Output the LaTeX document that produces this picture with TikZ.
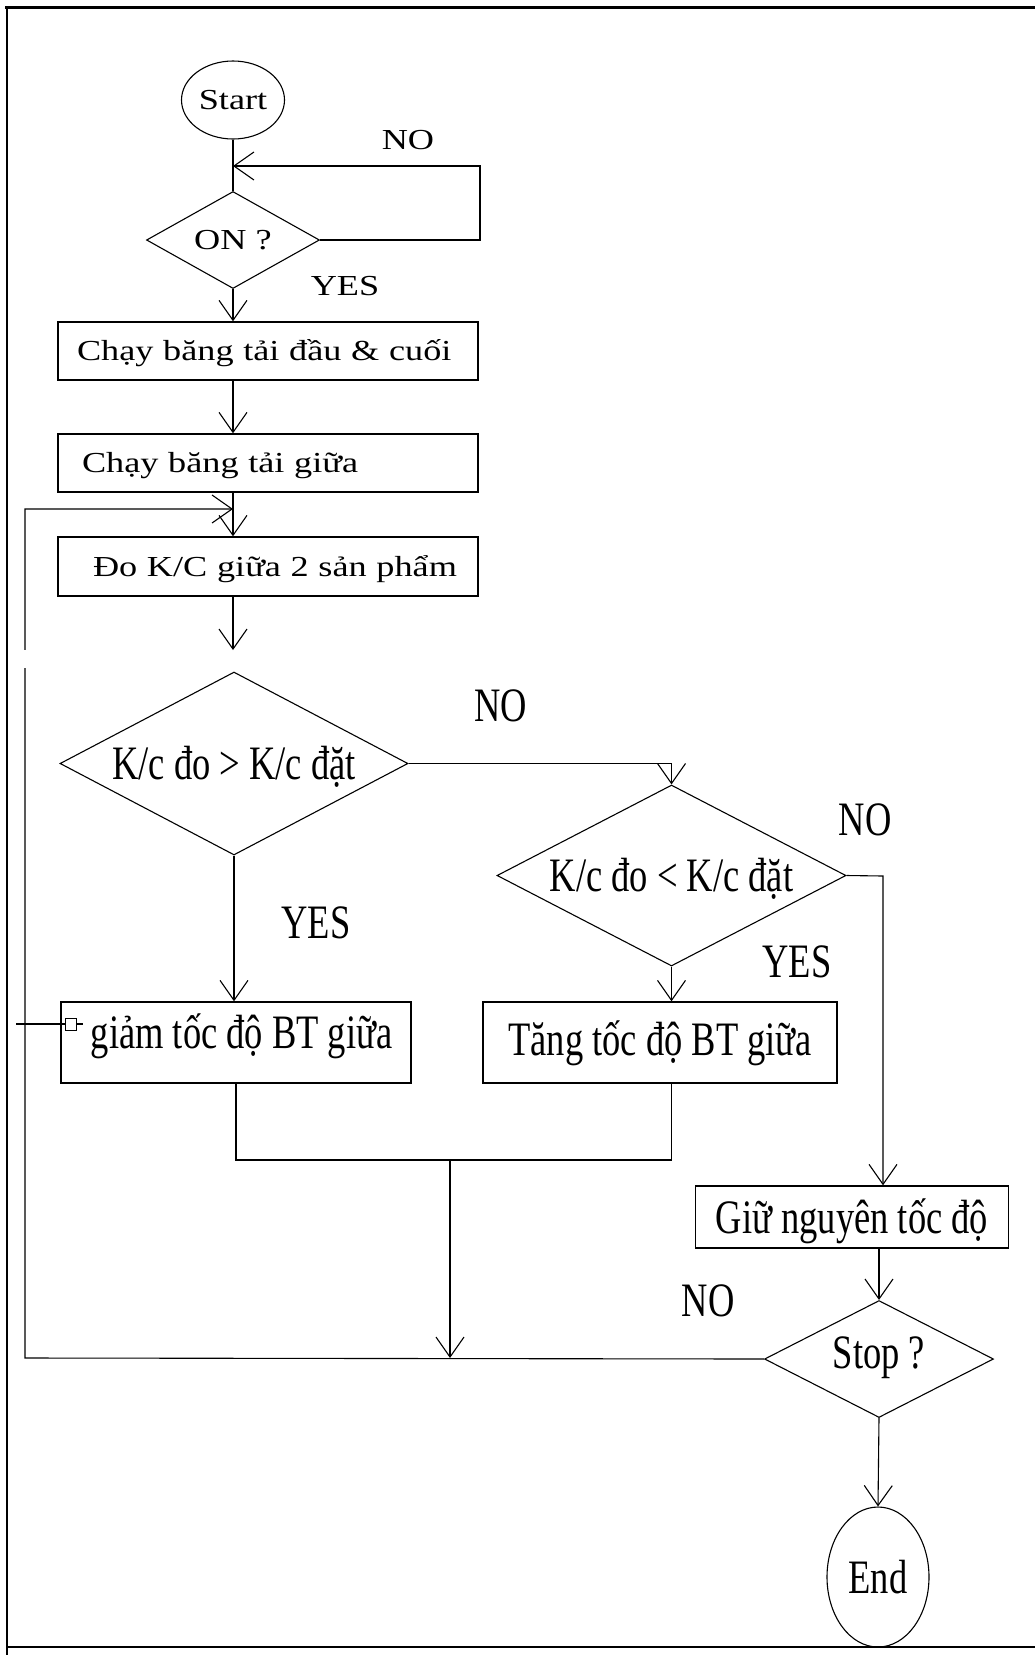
\documentclass[tikz,border=0pt]{standalone}
\usepackage{fontspec}
\setmainfont{Liberation Serif}
\newfontfamily\upfont[FakeStretch=1.25]{Liberation Serif}
\newfontfamily\lowfont[FakeStretch=0.76]{Liberation Serif}
\usetikzlibrary{shapes.geometric,arrows.meta}
\begin{document}
\begin{tikzpicture}[x=1pt,y=-1pt,
  conn/.style={line width=1.1pt},
  arr/.style={conn,-{Straight Barb[length=20pt,width=28pt]}},
  upper/.style={font=\upfont\fontsize{29}{32}\selectfont, text height=19pt, text depth=0pt},
  lower/.style={font=\lowfont\fontsize{48}{52}\selectfont, text height=32pt, text depth=0pt},
  box/.style={draw, line width=1.4pt, rectangle, inner sep=0pt},
  ubox/.style={box, upper, align=left, minimum height=58pt, text width=420pt},
  lbox/.style={box, lower, minimum height=81pt},
  dia/.style={draw, diamond, inner sep=0pt, line width=1.1pt},
  ell/.style={draw, ellipse, inner sep=0pt, line width=1.1pt},
  lab/.style={inner sep=0pt}
]
\useasboundingbox (0,0) rectangle (1035,1655);
% frame
\draw[line width=3pt] (5,7) -- (1035,7);
\draw[line width=2.5pt] (7,6) -- (7,1655);
\draw[line width=2pt] (6,1647) -- (1035,1647);

% nodes
\node[ell, upper, minimum width=103pt, minimum height=78pt] (start) at (233,100) {Start};
\node[dia, upper, minimum width=173pt, minimum height=97pt, aspect=1.78] (on) at (233,240) {ON ?};
\node[ubox] (b1) at (268,351) {\hspace*{19pt}Chạy băng tải đầu \& cuối};
\node[ubox] (b2) at (268,463) {\hspace*{24pt}Chạy băng tải giữa};
\node[ubox, minimum height=59pt] (b3) at (268,566.5) {\hspace*{35pt}Đo K/C giữa 2 sản phẩm};
\node[dia, lower, minimum width=348pt, minimum height=183pt, aspect=1.9] (d1) at (234,763.5) {K/c đo > K/c đặt};
\node[dia, lower, minimum width=349pt, minimum height=181pt, aspect=1.93] (d2) at (671.5,875.5) {K/c đo < K/c đặt};
\node[lbox, minimum width=350pt] (giam) at (236,1042.5) {\hspace*{11pt}\raisebox{10pt}{giảm tốc độ BT giữa}};
\node[lbox, minimum width=354pt] (tang) at (660,1042.5) {\raisebox{3pt}{Tăng tốc độ BT giữa}};
\node[box, lower, minimum width=313pt, minimum height=62pt] (giu) at (852,1217) {Giữ nguyên tốc độ};
\node[dia, lower, minimum width=229pt, minimum height=117pt, aspect=1.96] (stop) at (879,1359) {\raisebox{7pt}{Stop ?}};
\node[ell, lower, minimum width=102pt, minimum height=140pt] (end) at (878,1577) {End};

% labels
\node[lab, upper] (no0) at (408,140) {NO};
\node[lab, upper] (yes0) at (345,286) {YES};
\node[lab, lower] (no1) at (501,705) {NO};
\node[lab, lower] (yes1) at (316,922) {YES};
\node[lab, lower] (no2) at (865,819) {NO};
\node[lab, lower] (yes2) at (797,961) {YES};
\node[lab, lower] (no3) at (708,1300) {NO};

% coordinates
\coordinate (c1) at (233,166);
\coordinate (onR) at (480,166);
\coordinate (d1top) at (233,650);
\coordinate (r1) at (883,876);
\coordinate (bl) at (236,1160);
\coordinate (bm) at (450,1160);
\coordinate (br) at (671.5,1160);
\coordinate (jn) at (450,1358);
\coordinate (lb) at (25,1358);
\coordinate (lt) at (25,509);
\coordinate (lj) at (233,509);

% connectors
\draw[conn] (start.south) -- (on.north);
\draw[arr] (on.east) -| (onR) -- (c1);
\draw[arr] (on.south) -- (b1.north -| on.south);
\draw[arr] (b1.south -| on.south) -- (b2.north -| on.south);
\draw[arr] (b2.south -| on.south) -- (b3.north -| on.south);
\draw[arr] (b3.south -| on.south) -- (d1top);
\draw[arr] (d1.south) -- (d1.south |- giam.north);
\draw[arr] (d1.east) -| (d2.north);
\draw[arr] (d2.south) -- (d2.south |- tang.north);
\draw[arr] (d2.east) -- (r1) -- (r1 |- giu.north);
\draw[arr] (stop.north |- giu.south) -- (stop.north);
\draw[arr] (stop.south) -- (end.north);
\draw[conn] (giam.south -| bl) -- (bl) -- (br) -- (br |- tang.south);
\draw[arr] (bm) -- (jn);
\draw[arr] (stop.west) -- (lb) -- (lt) -- (lj);

% gap band of the reference
\fill[white] (15,650) rectangle (36,668);

% stray marker at the left of the "giam" box
\draw[conn] (16,1024) -- (83,1024);
\draw[line width=1pt, fill=white] (65,1018) rectangle (76,1030);
\end{tikzpicture}
\end{document}
